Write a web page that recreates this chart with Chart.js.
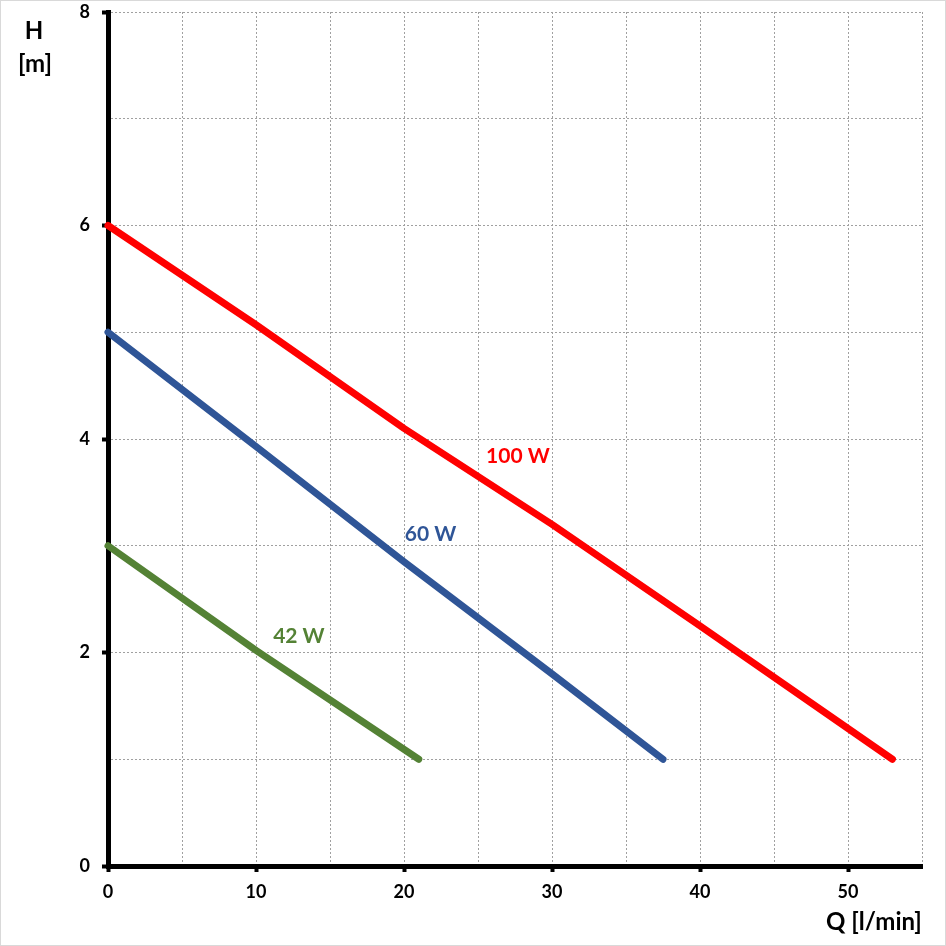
<!DOCTYPE html>
<html>
<head>
<meta charset="utf-8">
<script src="https://cdn.jsdelivr.net/npm/chart.js@4"></script>
<style>
  html, body { margin: 0; padding: 0; background: #fff; }
  #wrap { width: 946px; height: 946px; position: relative; }
</style>
</head>
<body>
<div id="wrap"><canvas id="pumpChart"></canvas></div>
<script>
// Pump curves: Q [l/min] vs H [m]
const q100 = [0, 10, 20, 30, 40, 53];
const h100 = [6.0, 5.07, 4.1, 3.2, 2.25, 1.0];
const q60 = [0, 10, 20, 30, 37.5];
const h60 = [5.0, 3.93, 2.85, 1.8, 1.0];
const q42 = [0, 10, 21];
const h42 = [3.0, 2.02, 1.0];

const seriesLabels = ['100 W', '60 W', '42 W'];
const seriesColors = ['#ff0000', '#2f5597', '#548235'];
// label anchor positions in data units
const labelX = [27.7, 21.8, 12.9];
const labelY = [3.84, 3.11, 2.15];

const xMax = 55;
const yMax = 8;

const FONT = 'Lato, "Open Sans", sans-serif';

function toPoints(xs, ys) {
    return xs.map((x, i) => ({ x: x, y: ys[i] }));
}

// Draws the light outer frame, axis titles and curve labels
const extrasPlugin = {
    id: 'extras',
    beforeDraw(chart) {
        const ctx = chart.ctx;
        ctx.save();
        ctx.fillStyle = '#fff';
        ctx.fillRect(0, 0, chart.width, chart.height);
        ctx.strokeStyle = '#d9d9d9';
        ctx.lineWidth = 1;
        ctx.strokeRect(0.5, 0.5, chart.width - 1, chart.height - 1);
        ctx.restore();
    },
    afterDraw(chart) {
        const ctx = chart.ctx;
        const xs = chart.scales.x;
        const ys = chart.scales.y;
        ctx.save();
        ctx.font = 'bold 24px ' + FONT;
        ctx.fillStyle = '#000';
        ctx.textAlign = 'center';
        ctx.textBaseline = 'middle';
        ctx.fillText('H', 34, 31);
        ctx.fillText('[m]', 35, 64);
        ctx.fillText('Q [l/min]', 874, 922);

        ctx.font = 'bold 21px ' + FONT;
        seriesLabels.forEach((txt, i) => {
            ctx.fillStyle = seriesColors[i];
            ctx.fillText(txt, xs.getPixelForValue(labelX[i]), ys.getPixelForValue(labelY[i]));
        });
        ctx.restore();
    }
};

const chartConfig = {
    type: 'scatter',
    data: {
        datasets: [
            { label: seriesLabels[0], data: toPoints(q100, h100), borderColor: seriesColors[0] },
            { label: seriesLabels[1], data: toPoints(q60, h60), borderColor: seriesColors[1] },
            { label: seriesLabels[2], data: toPoints(q42, h42), borderColor: seriesColors[2] }
        ].map(ds => Object.assign(ds, {
            showLine: true,
            borderWidth: 7,
            borderCapStyle: 'round',
            borderJoinStyle: 'round',
            pointRadius: 0,
            pointHoverRadius: 0,
            tension: 0,
            clip: false
        }))
    },
    options: {
        responsive: true,
        maintainAspectRatio: false,
        animation: false,
        devicePixelRatio: 1,
        layout: { padding: { left: 0, top: 12, right: 24, bottom: 0 } },
        plugins: {
            legend: { display: false },
            tooltip: { enabled: false }
        },
        scales: {
            x: {
                type: 'linear',
                min: 0,
                max: xMax,
                afterFit(scale) {
                    scale.height = 80;
                    scale.paddingLeft = 0;
                    scale.paddingRight = 0;
                },
                ticks: {
                    stepSize: 5,
                    padding: 9,
                    color: '#000',
                    font: { family: FONT, size: 18, weight: 'bold' },
                    maxRotation: 0,
                    autoSkip: false,
                    callback: v => (v % 10 === 0 && v < xMax ? String(v) : '')
                },
                grid: {
                    color: '#a0a0a0',
                    lineWidth: 1,
                    tickLength: 6,
                    tickWidth: 4,
                    tickColor: c => (c.tick && c.tick.value % 10 === 0 && c.tick.value < xMax ? '#000' : 'rgba(0,0,0,0)')
                },
                border: { display: true, color: '#000', width: 5, dash: [2, 2] }
            },
            y: {
                type: 'linear',
                min: 0,
                max: yMax,
                afterFit(scale) {
                    scale.width = 108;
                    scale.paddingTop = 0;
                    scale.paddingBottom = 0;
                },
                ticks: {
                    stepSize: 1,
                    padding: 12,
                    color: '#000',
                    font: { family: FONT, size: 18, weight: 'bold' },
                    callback: v => (v % 2 === 0 ? String(v) : '')
                },
                grid: {
                    color: '#a0a0a0',
                    lineWidth: 1,
                    tickLength: 6,
                    tickWidth: 4,
                    tickColor: c => (c.tick && c.tick.value % 2 === 0 ? '#000' : 'rgba(0,0,0,0)')
                },
                border: { display: true, color: '#000', width: 5, dash: [2, 2] }
            }
        }
    },
    plugins: [extrasPlugin]
};

const pumpChart = new Chart(document.getElementById('pumpChart'), chartConfig);
</script>
</body>
</html>
